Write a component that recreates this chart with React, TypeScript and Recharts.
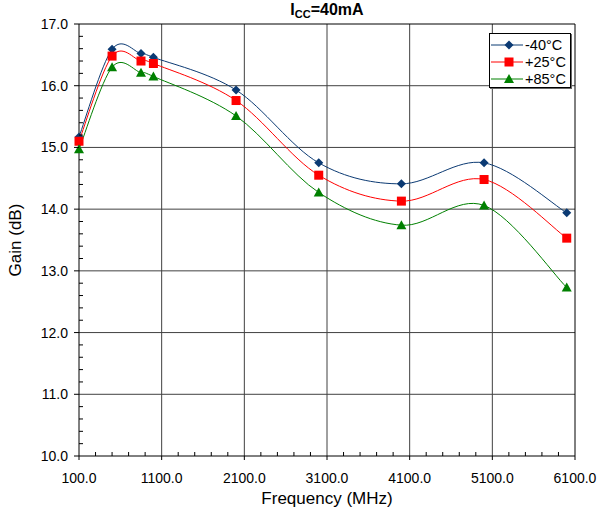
import React from 'react';
import { LineChart, Line, XAxis, YAxis, ReferenceLine, Legend } from 'recharts';

// frequency points (MHz)
const FREQS = [100, 500, 850, 1000, 2000, 3000, 4000, 5000, 6000];
const GAIN_M40 = [15.17, 16.59, 16.52, 16.46, 15.93, 14.75, 14.41, 14.75, 13.94];
const GAIN_P25 = [15.1, 16.48, 16.4, 16.36, 15.76, 14.55, 14.13, 14.48, 13.53];
const GAIN_P85 = [14.97, 16.3, 16.21, 16.15, 15.51, 14.27, 13.74, 14.06, 12.73];

const X_MAJOR = [100, 1100, 2100, 3100, 4100, 5100, 6100];
const X_TICKS = [
  100, 300, 500, 700, 900, 1100, 1300, 1500, 1700, 1900, 2100, 2300, 2500, 2700, 2900, 3100,
  3300, 3500, 3700, 3900, 4100, 4300, 4500, 4700, 4900, 5100, 5300, 5500, 5700, 5900, 6100,
];
const Y_MAJOR = [10, 11, 12, 13, 14, 15, 16, 17];
const Y_TICKS = [
  10, 10.2, 10.4, 10.6, 10.8, 11, 11.2, 11.4, 11.6, 11.8, 12, 12.2, 12.4, 12.6, 12.8, 13, 13.2, 13.4,
  13.6, 13.8, 14, 14.2, 14.4, 14.6, 14.8, 15, 15.2, 15.4, 15.6, 15.8, 16, 16.2, 16.4, 16.6, 16.8, 17,
];

const data = FREQS.map((f, i) => ({ f, m40: GAIN_M40[i], p25: GAIN_P25[i], p85: GAIN_P85[i] }));

const SERIES = [
  { key: 'm40', name: '-40°C', color: '#0B3A73', shape: 'diamond' },
  { key: 'p25', name: '+25°C', color: '#FF0000', shape: 'square' },
  { key: 'p85', name: '+85°C', color: '#008000', shape: 'triangle' },
];

const FONT = '"Liberation Sans", Arial, sans-serif';
const GRID = '#404040';

// Excel style smoothed line (Catmull-Rom as bezier)
const excelCurve = (context: any) => {
  let pts: number[][] = [];
  return {
    areaStart() {},
    areaEnd() {},
    lineStart() {
      pts = [];
    },
    point(x: number, y: number) {
      pts.push([+x, +y]);
    },
    lineEnd() {
      const n = pts.length;
      if (!n) return;
      context.moveTo(pts[0][0], pts[0][1]);
      for (let i = 0; i < n - 1; i++) {
        const p0 = pts[Math.max(0, i - 1)];
        const p1 = pts[i];
        const p2 = pts[i + 1];
        const p3 = pts[Math.min(n - 1, i + 2)];
        context.bezierCurveTo(
          p1[0] + (p2[0] - p0[0]) / 6,
          p1[1] + (p2[1] - p0[1]) / 6,
          p2[0] - (p3[0] - p1[0]) / 6,
          p2[1] - (p3[1] - p1[1]) / 6,
          p2[0],
          p2[1]
        );
      }
    },
  };
};

const Marker = ({ cx, cy, shape, color }: any) => {
  if (shape === 'diamond') {
    return <path d={`M${cx},${cy - 4.5}L${cx + 4.5},${cy}L${cx},${cy + 4.5}L${cx - 4.5},${cy}Z`} fill={color} />;
  }
  if (shape === 'square') {
    return <rect x={cx - 4.5} y={cy - 4.5} width={9} height={9} fill={color} />;
  }
  return <path d={`M${cx},${cy - 5}L${cx + 5},${cy + 4}L${cx - 5},${cy + 4}Z`} fill={color} />;
};

const XTick = ({ x, y, payload }: any) => {
  const v = payload.value;
  const major = (v - 100) % 1000 === 0;
  return (
    <g>
      {major ? (
        <line x1={x} x2={x} y1={y} y2={y + 4} stroke="#000" />
      ) : (
        <line x1={x} x2={x} y1={y} y2={y - 4} stroke="#000" />
      )}
      {major && (
        <text x={x} y={y + 27} textAnchor="middle" fontSize={14} fontFamily={FONT} fill="#000">
          {v.toFixed(1)}
        </text>
      )}
    </g>
  );
};

const YTick = ({ x, y, payload }: any) => {
  const v = payload.value;
  const major = Math.abs(v - Math.round(v)) < 1e-6;
  return (
    <g>
      {major ? (
        <line x1={x - 5} x2={x} y1={y} y2={y} stroke="#000" />
      ) : (
        <line x1={x} x2={x + 4} y1={y} y2={y} stroke="#000" />
      )}
      {major && (
        <text x={x - 11} y={y + 5} textAnchor="end" fontSize={14} fontFamily={FONT} fill="#000">
          {v.toFixed(1)}
        </text>
      )}
    </g>
  );
};

const LegendBox = () => (
  <div
    style={{
      width: 82,
      height: 55,
      border: '1px solid #000',
      background: '#fff',
      boxShadow: '1px 1px 0 #666',
      fontFamily: FONT,
      fontSize: 14.5,
      paddingTop: 2,
      boxSizing: 'border-box',
    }}
  >
    {SERIES.map((s) => (
      <div key={s.key} style={{ display: 'flex', alignItems: 'center', height: 17 }}>
        <svg width={34} height={12} style={{ marginLeft: 1 }}>
          <line x1={0} x2={32} y1={6} y2={6} stroke={s.color} strokeWidth={1} />
          <Marker cx={18} cy={6} shape={s.shape} color={s.color} />
        </svg>
        <span>{s.name}</span>
      </div>
    ))}
  </div>
);

export default function App() {
  return (
    <div style={{ position: 'absolute', left: 0, top: 0, width: 598, height: 514, background: '#fff' }}>
      <div
        style={{
          position: 'absolute',
          left: 0,
          width: 654,
          top: 1,
          textAlign: 'center',
          fontFamily: FONT,
          fontWeight: 'bold',
          fontSize: 16,
        }}
      >
        I<sub style={{ fontSize: 11, verticalAlign: -3 }}>CC</sub>=40mA
      </div>
      <LineChart width={598} height={514} data={data} margin={{ top: 24, right: 23, bottom: 0, left: 0 }}>
        {Y_MAJOR.slice(1, -1).map((v) => (
          <ReferenceLine key={`gy${v}`} y={v} stroke={GRID} strokeWidth={1} />
        ))}
        {X_MAJOR.slice(1, -1).map((v) => (
          <ReferenceLine key={`gx${v}`} x={v} stroke={GRID} strokeWidth={1} />
        ))}
        <ReferenceLine y={17} stroke="#000" strokeWidth={1} />
        <ReferenceLine x={6100} stroke="#000" strokeWidth={1} />
        <XAxis
          dataKey="f"
          type="number"
          domain={[100, 6100]}
          ticks={X_TICKS}
          interval={0}
          height={58}
          tickSize={0}
          tickMargin={0}
          tickLine={false}
          axisLine={{ stroke: '#000' }}
          tick={<XTick />}
          label={{ value: 'Frequency (MHz)', position: 'insideBottom', offset: 10, fontSize: 17, fontFamily: FONT, fill: '#000' }}
        />
        <YAxis
          type="number"
          domain={[10, 17]}
          ticks={Y_TICKS}
          interval={0}
          width={79}
          tickSize={0}
          tickMargin={0}
          tickLine={false}
          axisLine={{ stroke: '#000' }}
          tick={<YTick />}
          label={{ value: 'Gain (dB)', angle: -90, position: 'insideLeft', offset: 15, fontSize: 17, fontFamily: FONT, fill: '#000', style: { textAnchor: 'middle' } }}
        />
        <Legend
          layout="vertical"
          align="center"
          verticalAlign="middle"
          wrapperStyle={{ left: 489, top: 33, width: 82, height: 55 }}
          content={() => <LegendBox />}
        />
        {SERIES.map((s) => (
          <Line
            key={s.key}
            dataKey={s.key}
            name={s.name}
            type={excelCurve as any}
            stroke={s.color}
            strokeWidth={1}
            isAnimationActive={false}
            dot={(p: any) => <Marker key={`${s.key}-${p.index}`} cx={p.cx} cy={p.cy} shape={s.shape} color={s.color} />}
            activeDot={false}
          />
        ))}
      </LineChart>
    </div>
  );
}
